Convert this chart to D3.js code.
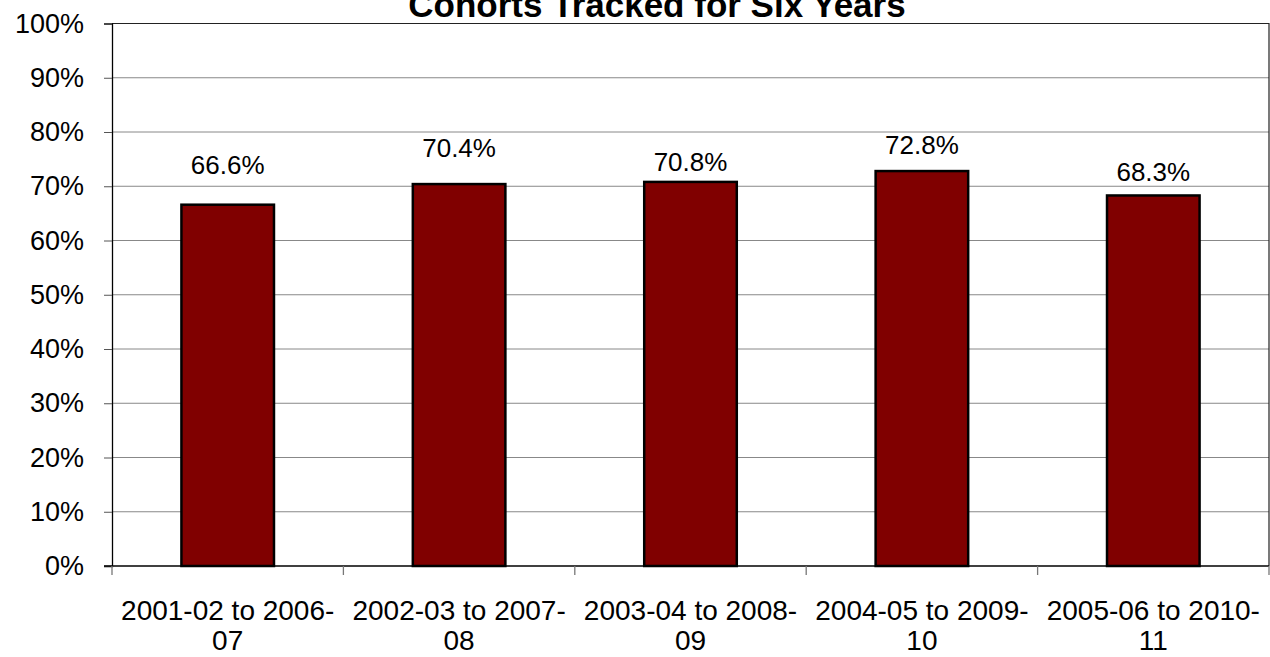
<!DOCTYPE html>
<html>
<head>
<meta charset="utf-8">
<script src="https://cdn.jsdelivr.net/npm/d3@7"></script>
<style>
  body { margin: 0; background: #fff; }
  text { font-family: "Liberation Sans", Arial, sans-serif; fill: #000; }
</style>
</head>
<body>
<div id="chart"></div>
<script>
// chart data
var cohorts = [
  ["2001-02 to 2006-", "07"],
  ["2002-03 to 2007-", "08"],
  ["2003-04 to 2008-", "09"],
  ["2004-05 to 2009-", "10"],
  ["2005-06 to 2010-", "11"]
];
var rates = [66.6, 70.4, 70.8, 72.8, 68.3];
var yTicks = [0, 10, 20, 30, 40, 50, 60, 70, 80, 90, 100];
var chartTitle = "Cohorts Tracked for Six Years";

// label lift above each bar top (px), labels were nudged by hand in the original
var labelLift = [31, 27, 11, 17, 14];

var width = 1270;
var height = 657;
var plot = { left: 112, right: 1269, top: 23.5, bottom: 566 };

var svg = d3.select("#chart")
  .append("svg")
  .attr("width", width)
  .attr("height", height);

var xScale = d3.scaleBand()
  .domain(d3.range(cohorts.length))
  .range([plot.left, plot.right])
  .paddingInner(0.6)
  .paddingOuter(0.3);

var yScale = d3.scaleLinear()
  .domain([0, 100])
  .range([plot.bottom, plot.top]);

// gridlines
svg.append("g")
  .selectAll("line")
  .data(yTicks.slice(1, -1))
  .enter()
  .append("line")
  .attr("x1", plot.left)
  .attr("x2", plot.right)
  .attr("y1", function(d) { return yScale(d); })
  .attr("y2", function(d) { return yScale(d); })
  .attr("stroke", "#888")
  .attr("stroke-width", 1);

// plot frame (top and right)
svg.append("path")
  .attr("d", "M" + plot.left + "," + plot.top + "H" + plot.right + "V" + plot.bottom)
  .attr("fill", "none")
  .attr("stroke", "#222")
  .attr("stroke-width", 1.2);

// y axis
var yAxis = d3.axisLeft(yScale)
  .tickValues(yTicks)
  .tickSize(8)
  .tickPadding(20)
  .tickFormat(function(d) { return d + "%"; });

var yG = svg.append("g")
  .attr("transform", "translate(" + plot.left + ",0)")
  .call(yAxis);
yG.select(".domain").attr("stroke", "#000").attr("stroke-width", 1.3);
yG.selectAll(".tick line").attr("stroke", "#555");
yG.selectAll(".tick text")
  .attr("font-size", 27)
  .attr("font-family", "Liberation Sans, Arial, sans-serif")
  .attr("fill", "#000");

// x axis (ticks between categories)
var xEdges = d3.range(cohorts.length + 1).map(function(i) {
  return plot.left + i * (plot.right - plot.left) / cohorts.length;
});
svg.append("line")
  .attr("x1", plot.left - 8)
  .attr("x2", plot.right)
  .attr("y1", plot.bottom)
  .attr("y2", plot.bottom)
  .attr("stroke", "#000")
  .attr("stroke-width", 1.3);
svg.append("g")
  .selectAll("line")
  .data(xEdges)
  .enter()
  .append("line")
  .attr("x1", function(d) { return d; })
  .attr("x2", function(d) { return d; })
  .attr("y1", plot.bottom)
  .attr("y2", plot.bottom + 9)
  .attr("stroke", "#777")
  .attr("stroke-width", 1.3);

// bars
svg.append("g")
  .selectAll("rect")
  .data(rates)
  .enter()
  .append("rect")
  .attr("x", function(d, i) { return xScale(i); })
  .attr("y", function(d) { return yScale(d); })
  .attr("width", xScale.bandwidth())
  .attr("height", function(d) { return yScale(0) - yScale(d); })
  .attr("fill", "#800000")
  .attr("stroke", "#000")
  .attr("stroke-width", 2.5);

// value labels
svg.append("g")
  .selectAll("text")
  .data(rates)
  .enter()
  .append("text")
  .attr("x", function(d, i) { return xScale(i) + xScale.bandwidth() / 2; })
  .attr("y", function(d, i) { return yScale(d) - labelLift[i]; })
  .attr("text-anchor", "middle")
  .attr("font-size", 26)
  .text(function(d) { return d.toFixed(1) + "%"; });

// category labels (two lines each)
var catG = svg.append("g")
  .selectAll("text")
  .data(cohorts)
  .enter()
  .append("text")
  .attr("text-anchor", "middle")
  .attr("font-size", 28)
  .attr("transform", function(d, i) {
    return "translate(" + (xScale(i) + xScale.bandwidth() / 2) + "," + 620 + ")";
  });
catG.append("tspan").attr("x", 0).attr("y", 0).text(function(d) { return d[0]; });
catG.append("tspan").attr("x", 0).attr("y", 30).text(function(d) { return d[1]; });

// title, clipped at the top as in the original
svg.append("text")
  .attr("x", 657)
  .attr("y", 17)
  .attr("text-anchor", "middle")
  .attr("font-size", 35)
  .attr("font-weight", "bold")
  .text(chartTitle);
</script>
</body>
</html>
